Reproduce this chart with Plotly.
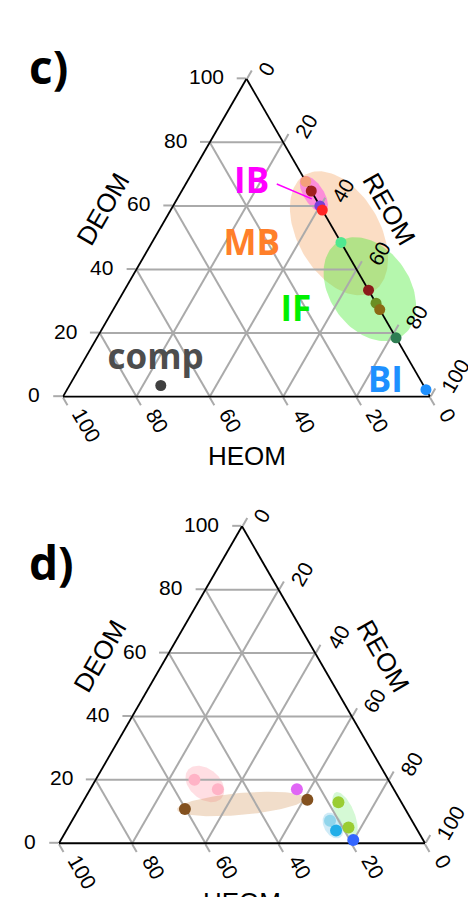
import numpy as np
import plotly.graph_objects as go

# ---------------- Panel c data ----------------
c_deom = [67.7, 64.7, 60.0, 58.7, 48.5, 33.5, 29.4, 27.4, 18.5, 2.2, 3.5]
c_heom = [0.0, 0.0, 0.0, 0.0, 0.0, 0.0, 0.0, 0.0, 0.0, 0.0, 71.6]
c_reom = [32.3, 35.3, 40.0, 41.3, 51.5, 66.5, 70.6, 72.6, 81.5, 97.8, 24.9]
c_colors = ["#F4A07A", "#A11F1F", "#7A3FD9", "#FF2525", "#50E890", "#8B1A1A",
            "#6B8E23", "#8B6914", "#2E7D52", "#1E90FF", "#404040"]

# group ellipses (centre DEOM/REOM, semi-axes in % of side, angle deg)
c_ell_names = ["MB", "IF", "IB"]
c_ell_deom = [51.4, 33.8, 63.7]
c_ell_reom = [49.5, 66.7, 36.5]
c_ell_major = [18.4, 15.5, 5.7]
c_ell_minor = [11.2, 10.9, 2.7]
c_ell_angle = [-60, -55, -57]
c_ell_fill = ["rgba(244,164,96,0.37)", "rgba(60,235,40,0.38)", "rgba(255,0,255,0.36)"]

# group labels
c_lab_text = ["IB", "MB", "IF", "comp", "BI"]
c_lab_deom = [66.8, 47.3, 26.5, 11.3, 4.1]
c_lab_heom = [15.2, 24.9, 23.3, 69.1, 10.1]
c_lab_reom = [18.0, 27.8, 50.2, 19.6, 85.8]
c_lab_color = ["#FF00FF", "#FF7F2A", "#00F000", "#4D4D4D", "#1E90FF"]

# IB pointer
c_ptr_deom = [66.9, 62.2]
c_ptr_heom = [8.3, 1.1]
c_ptr_reom = [24.8, 36.7]

# ---------------- Panel d data ----------------
d_deom = [20.0, 17.0, 10.8, 17.0, 13.7, 12.9, 5.0, 7.1, 4.0, 1.0]
d_heom = [53.0, 48.1, 60.2, 26.5, 25.3, 17.2, 18.4, 22.4, 22.3, 19.1]
d_reom = [27.0, 34.9, 29.0, 56.5, 61.0, 69.9, 76.6, 70.5, 73.7, 79.9]
d_colors = ["#FFB3C6", "#FFB3C6", "#83511F", "#E066F5", "#83511F",
            "#9ACD32", "#9ACD32", "#91D5EB", "#22AEE8", "#3366FF"]

d_ell_deom = [18.7, 12.4, 8.9, 5.6]
d_ell_reom = [30.5, 43.5, 73.7, 72.1]
d_ell_major = [6.0, 17.5, 6.7, 3.8]
d_ell_minor = [4.1, 3.0, 2.6, 2.5]
d_ell_angle = [-40, 5, -68, -60]
d_ell_fill = ["rgba(255,182,193,0.45)", "rgba(205,133,63,0.28)",
              "rgba(144,238,144,0.38)", "rgba(135,206,235,0.40)"]

tick_vals = [0, 20, 40, 60, 80, 100]

FW, FH = 468, 897
S = np.sqrt(3) / 2
W_OVER_H = 2 / np.sqrt(3)

TERN_C = dict(x=[0.1346, 0.9188], y=[0.55, 0.92])
TERN_D = dict(x=[0.1261, 0.9081], y=[0.0516, 0.4216])
CART_C_Y = [0.5, 1.0]
CART_D_Y = [0.0, 0.5]


def tri_geom(dom):
    """triangle placement as plotly lays out a ternary subplot"""
    xc = sum(dom["x"]) / 2
    yc = sum(dom["y"]) / 2
    wmax = (dom["x"][1] - dom["x"][0]) * FW
    hmax = (dom["y"][1] - dom["y"][0]) * FH
    if wmax > W_OVER_H * hmax:
        h = hmax
        w = h * W_OVER_H
    else:
        w = wmax
        h = w / W_OVER_H
    x0 = FW * xc - w / 2
    y0 = FH * (1 - yc) - h / 2
    return x0, y0 + h, w / 100.0  # left x, base y (px from top), px per unit


def cart_ranges(dom, ydom):
    x0, yb, k = tri_geom(dom)
    xr = [(0 - x0) / k, (FW - x0) / k]
    yr = [(yb - FH * (1 - ydom[0])) / k, (yb - FH * (1 - ydom[1])) / k]
    return xr, yr


def to_xy(a, c):
    a = np.asarray(a, dtype=float)
    c = np.asarray(c, dtype=float)
    return c + a / 2.0, a * S


def ellipse_xy(a0, c0, rx, ry, ang, n=120):
    th = np.radians(ang)
    t = np.linspace(0, 2 * np.pi, n)
    X0, Y0 = to_xy(a0, c0)
    X = X0 + rx * np.cos(t) * np.cos(th) - ry * np.sin(t) * np.sin(th)
    Y = Y0 + rx * np.cos(t) * np.sin(th) + ry * np.sin(t) * np.cos(th)
    return X, Y


fig = go.Figure()

# ---- ellipses on cartesian overlays aligned with the ternary frames ----
for i in range(len(c_ell_names)):
    X, Y = ellipse_xy(c_ell_deom[i], c_ell_reom[i], c_ell_major[i], c_ell_minor[i], c_ell_angle[i])
    fig.add_trace(go.Scatter(x=X, y=Y, mode="lines", fill="toself", fillcolor=c_ell_fill[i],
                             line=dict(width=0), xaxis="x", yaxis="y", hoverinfo="skip"))
for i in range(len(d_ell_deom)):
    X, Y = ellipse_xy(d_ell_deom[i], d_ell_reom[i], d_ell_major[i], d_ell_minor[i], d_ell_angle[i])
    fig.add_trace(go.Scatter(x=X, y=Y, mode="lines", fill="toself", fillcolor=d_ell_fill[i],
                             line=dict(width=0), xaxis="x2", yaxis="y2", hoverinfo="skip"))

# ---- panel c ----
fig.add_trace(go.Scatterternary(a=c_ptr_deom, b=c_ptr_heom, c=c_ptr_reom, mode="lines",
                                line=dict(color="#FF00FF", width=1.5), cliponaxis=False,
                                subplot="ternary"))
fig.add_trace(go.Scatterternary(a=c_deom, b=c_heom, c=c_reom, mode="markers",
                                marker=dict(size=11, color=c_colors, line=dict(width=0)),
                                cliponaxis=False, subplot="ternary"))
fig.add_trace(go.Scatterternary(a=c_lab_deom, b=c_lab_heom, c=c_lab_reom, mode="text",
                                text=c_lab_text,
                                textfont=dict(family="Open Sans", size=35, color=c_lab_color,
                                              weight="bold"),
                                cliponaxis=False, subplot="ternary"))

# ---- panel d ----
fig.add_trace(go.Scatterternary(a=d_deom, b=d_heom, c=d_reom, mode="markers",
                                marker=dict(size=12, color=d_colors, line=dict(width=0)),
                                cliponaxis=False, subplot="ternary2"))


def axis():
    return dict(tickmode="array", tickvals=tick_vals, showticklabels=False,
                ticks="outside", ticklen=9, tickwidth=1.5,
                tickcolor="#AAAAAA", showgrid=True, gridcolor="#AAAAAA", gridwidth=1.5,
                showline=True, linecolor="black", linewidth=1.8, layer="below traces",
                title=dict(text=""), min=0)


def tern(dom):
    return dict(sum=100, domain=dom, bgcolor="rgba(0,0,0,0)",
                aaxis=axis(), baxis=axis(), caxis=axis())


xr_c, yr_c = cart_ranges(TERN_C, CART_C_Y)
xr_d, yr_d = cart_ranges(TERN_D, CART_D_Y)
hid = dict(visible=False, showgrid=False, zeroline=False, fixedrange=True)

fig.update_layout(
    width=FW, height=FH, margin=dict(l=0, r=0, t=0, b=0),
    paper_bgcolor="white", plot_bgcolor="rgba(0,0,0,0)", showlegend=False,
    ternary=tern(TERN_C), ternary2=tern(TERN_D),
    xaxis=dict(domain=[0, 1], range=xr_c, anchor="y", **hid),
    yaxis=dict(domain=CART_C_Y, range=yr_c, anchor="x", **hid),
    xaxis2=dict(domain=[0, 1], range=xr_d, anchor="y2", **hid),
    yaxis2=dict(domain=CART_D_Y, range=yr_d, anchor="x2", **hid),
)

# ---- tick labels (rotated like the reference) ----
tick_font = dict(family="Liberation Sans", size=21, color="black")
DIG = 5.85  # half of a digit advance (px)
for xref, yref in [("x", "y"), ("x2", "y2")]:
    for v in tick_vals:
        n = len(str(v))
        # DEOM (left edge)
        X, Y = to_xy(v, 0)
        fig.add_annotation(x=X, y=Y, xref=xref, yref=yref, text=str(v), showarrow=False,
                           font=tick_font, xanchor="right", yanchor="middle",
                           xshift=-21, yshift=2)
        # HEOM (bottom edge)
        X, Y = to_xy(0, 100 - v)
        fig.add_annotation(x=X, y=Y, xref=xref, yref=yref, text=str(v), showarrow=False,
                           font=tick_font, textangle=60, xanchor="center", yanchor="middle",
                           xshift=15 + n * DIG * 0.5, yshift=-(13.6 + n * DIG * S))
        # REOM (right edge)
        X, Y = to_xy(100 - v, v)
        fig.add_annotation(x=X, y=Y, xref=xref, yref=yref, text=str(v), showarrow=False,
                           font=tick_font, textangle=-60, xanchor="center", yanchor="middle",
                           xshift=17 + n * DIG * 0.5, yshift=5.5 + n * DIG * S)

ann_font = dict(family="Liberation Sans", size=26, color="black")
anns = [
    dict(text="DEOM", x=103 / FW, y=1 - 209 / FH, textangle=-60),
    dict(text="REOM", x=389 / FW, y=1 - 209 / FH, textangle=60),
    dict(text="HEOM", x=246.5 / FW, y=1 - 456 / FH, textangle=0),
    dict(text="DEOM", x=100 / FW, y=1 - 656 / FH, textangle=-60),
    dict(text="REOM", x=383 / FW, y=1 - 656 / FH, textangle=60),
    dict(text="HEOM", x=242 / FW, y=1 - 902 / FH, textangle=0),
]
for a in anns:
    fig.add_annotation(xref="paper", yref="paper", showarrow=False, font=ann_font,
                       xanchor="center", yanchor="middle", **a)

for txt, y in [("c)", 1 - 66 / FH), ("d)", 1 - 562 / FH)]:
    fig.add_annotation(text=txt, xref="paper", yref="paper", x=27 / FW, y=y,
                       xanchor="left", yanchor="middle", showarrow=False,
                       font=dict(family="Open Sans", size=46, color="black", weight="bold"))

fig.write_html("out.html", config={"displayModeBar": False},
               post_script="document.body.style.margin='0px';")
